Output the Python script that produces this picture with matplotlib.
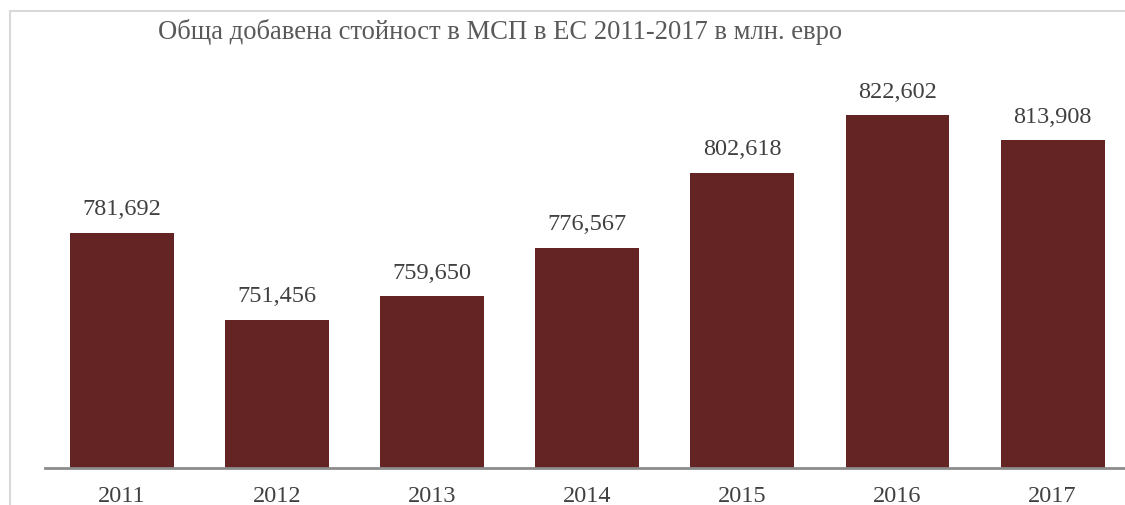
import matplotlib.pyplot as plt
from matplotlib.patches import Rectangle

years = ['2011', '2012', '2013', '2014', '2015', '2016', '2017']
values = [781692, 751456, 759650, 776567, 802618, 822602, 813908]
title = 'Обща добавена стойност в МСП в ЕС 2011-2017 в млн. евро'

plt.rcParams['font.family'] = ['Liberation Serif', 'DejaVu Serif']

fig = plt.figure(figsize=(11.25, 5.05), dpi=100)
ax = fig.add_axes([0.0396, 0.0733, 0.965, 0.798])

x = range(len(years))
bars = ax.bar(x, values, width=0.67, color='#642424')
ax.set_xlim(-0.5, 6.5)
ax.set_ylim(700000, 840000)

for b, v in zip(bars, values):
    ax.annotate(f'{v:,}', (b.get_x() + b.get_width() / 2, v),
                xytext=(0, 9), textcoords='offset points',
                ha='center', va='bottom', fontsize=17.5, color='#404040')

ax.set_xticks(list(x))
ax.set_xticklabels(years, fontsize=17.5, color='#404040')
ax.tick_params(axis='x', length=0, pad=13)
ax.set_yticks([])
for side in ['left', 'right', 'top']:
    ax.spines[side].set_visible(False)
ax.spines['bottom'].set_color('#8c8c8c')
ax.spines['bottom'].set_linewidth(2)

# light frame around the chart area (right and bottom edges cut off)
fig.patches.append(Rectangle((10 / 1125, -0.1), 1.2, 1 - 11 / 505 + 0.1,
                             transform=fig.transFigure, fill=False,
                             edgecolor='#d9d9d9', linewidth=1.5, zorder=0))

fig.text(158 / 1125, 1 - 32 / 505, title, ha='left', va='center',
         fontsize=19.2, color='#595959')

plt.savefig('out.png')
